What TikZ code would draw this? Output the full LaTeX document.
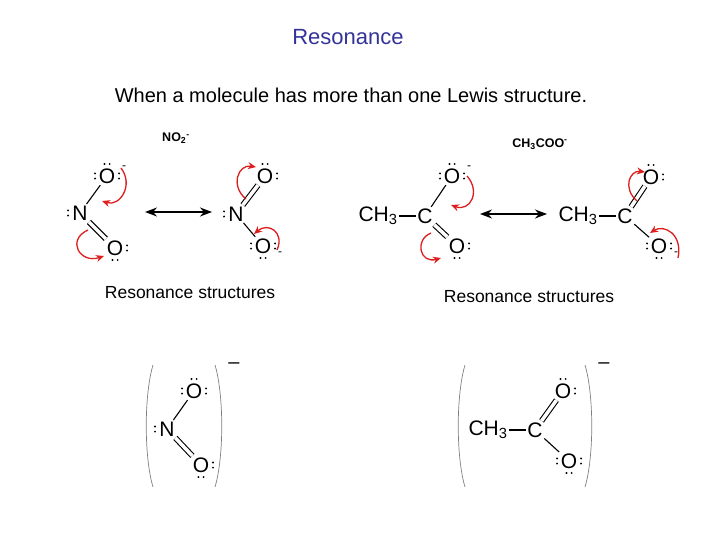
\documentclass[tikz,border=0pt]{standalone}
\usepackage{fontspec}
\setmainfont{Liberation Sans}
\usetikzlibrary{calc,arrows.meta}
\definecolor{ttl}{RGB}{51,51,153}
\definecolor{rd}{RGB}{220,30,30}
\newcommand\lpair[2]{\fill ($(#1)+(#2:12)+(#2+90:2.6)$) circle (1.1);\fill ($(#1)+(#2:12)+(#2-90:2.6)$) circle (1.1);}
\begin{document}
\begin{tikzpicture}[x=1pt,y=-1pt,
  atom/.style={font=\fontsize{21}{21}\selectfont,inner sep=1.5pt},
  bond/.style={line width=1.1pt},
  dbond/.style={line width=1.1pt,double distance=3.5pt},
  redarr/.style={rd,line width=1.3pt,-{Stealth[length=8pt,width=7pt]}},
  rarr/.style={line width=1.5pt,{Stealth[length=12pt,width=9pt]}-{Stealth[length=12pt,width=9pt]}},
  brk/.style={gray,line width=0.7pt},
  chg/.style={font=\fontsize{12}{12}\selectfont},
  lbl/.style={font=\fontsize{17.5}{17.5}\selectfont}]
\useasboundingbox (0,0) rectangle (720,540);
\node[ttl,font=\fontsize{22}{22}\selectfont] (title) at (348,37) {Resonance};
\node[font=\fontsize{20}{20}\selectfont] (sub) at (351,95) {When a molecule has more than one Lewis structure.};
\node[font=\bfseries\fontsize{12.5}{12.5}\selectfont] (l1) at (176,138) {NO\textsubscript{2}\textsuperscript{-}};
\node[font=\bfseries\fontsize{12.5}{12.5}\selectfont] (l2) at (540,144) {CH\textsubscript{3}COO\textsuperscript{-}};
% NO2 structure 1
\node[atom] (a1) at (107,176) {O};
\node[atom] (a2) at (80,213) {N};
\node[atom] (a3) at (115,248) {O};
\draw[bond] (a1)--(a2); \draw[dbond] (a2)--(a3);
\lpair{a1}{270}\lpair{a1}{180}\lpair{a1}{0}\lpair{a2}{180}\lpair{a3}{0}\lpair{a3}{90}
\node[chg] (c1) at (124,168) {-};
\draw[redarr] (121,168) .. controls (134,185) and (120,207) .. (102,201);
\draw[redarr] (88,230) .. controls (66,240) and (80,264) .. (104,256);
\coordinate (d1a) at (145,212); \coordinate (d1b) at (212,212);
\draw[rarr] (d1a)--(d1b);
% NO2 structure 2
\node[atom] (b1) at (265,176) {O};
\node[atom] (b2) at (236,214) {N};
\node[atom] (b3) at (263,246) {O};
\draw[dbond] (b1)--(b2); \draw[bond] (b2)--(b3);
\lpair{b1}{270}\lpair{b1}{0}\lpair{b2}{180}\lpair{b3}{180}\lpair{b3}{0}\lpair{b3}{90}
\node[chg] (c2) at (280,254) {-};
\draw[redarr] (246,199) .. controls (230,186) and (238,164) .. (256,167);
\draw[redarr] (277,250) .. controls (285,232) and (268,222) .. (254,234);
% acetate 1
\node[atom] (e0) at (378,216) {CH\textsubscript{3}};
\node[atom] (e1) at (425,216) {C};
\node[atom] (e2) at (452,176) {O};
\node[atom] (e3) at (457,246) {O};
\draw[bond] (e0)--(e1); \draw[bond] (e1)--(e2); \draw[dbond] (e1)--(e3);
\lpair{e2}{270}\lpair{e2}{180}\lpair{e2}{0}\lpair{e3}{0}\lpair{e3}{90}
\node[chg] (c3) at (469,168) {-};
\draw[redarr] (467,176) .. controls (481,192) and (470,212) .. (451,205);
\draw[redarr] (431,233) .. controls (414,240) and (420,264) .. (441,258);
\coordinate (d2a) at (480,214); \coordinate (d2b) at (547,214);
\draw[rarr] (d2a)--(d2b);
% acetate 2
\node[atom] (f0) at (578,216) {CH\textsubscript{3}};
\node[atom] (f1) at (625,216) {C};
\node[atom] (f2) at (651,177) {O};
\node[atom] (f3) at (659,246) {O};
\draw[bond] (f0)--(f1); \draw[dbond] (f1)--(f2); \draw[bond] (f1)--(f3);
\lpair{f2}{270}\lpair{f2}{0}\lpair{f3}{180}\lpair{f3}{0}\lpair{f3}{90}
\node[chg] (c4) at (676,254) {-};
\draw[redarr] (637,201) .. controls (622,188) and (630,170) .. (645,172);
\draw[redarr] (678,258) .. controls (683,234) and (664,224) .. (650,233);
\node[lbl] (r1) at (190,293) {Resonance structures};
\node[lbl] (r2) at (529,297) {Resonance structures};
% bottom left
\draw[brk] (153,365) .. controls (144,395) and (144,457) .. (153,487);
\draw[brk] (215,365) .. controls (224,395) and (224,457) .. (215,487);
\node[font=\fontsize{20}{20}\selectfont] (m1) at (234,366) {–};
\node[atom] (g1) at (194,391) {O};
\node[atom] (g2) at (167,429) {N};
\node[atom] (g3) at (201,465) {O};
\draw[bond] (g1)--(g2); \draw[dbond] (g2)--(g3);
\lpair{g1}{270}\lpair{g1}{180}\lpair{g1}{0}\lpair{g2}{180}\lpair{g3}{0}\lpair{g3}{90}
% bottom right
\draw[brk] (465,365) .. controls (456,395) and (456,457) .. (465,487);
\draw[brk] (585,365) .. controls (594,395) and (594,457) .. (585,487);
\node[font=\fontsize{20}{20}\selectfont] (m2) at (604,366) {–};
\node[atom] (h0) at (488,430) {CH\textsubscript{3}};
\node[atom] (h1) at (535,430) {C};
\node[atom] (h2) at (563,391) {O};
\node[atom] (h3) at (569,461) {O};
\draw[bond] (h0)--(h1); \draw[dbond] (h1)--(h2); \draw[bond] (h1)--(h3);
\lpair{h2}{270}\lpair{h2}{0}\lpair{h3}{180}\lpair{h3}{0}\lpair{h3}{90}
\end{tikzpicture}
\end{document}
